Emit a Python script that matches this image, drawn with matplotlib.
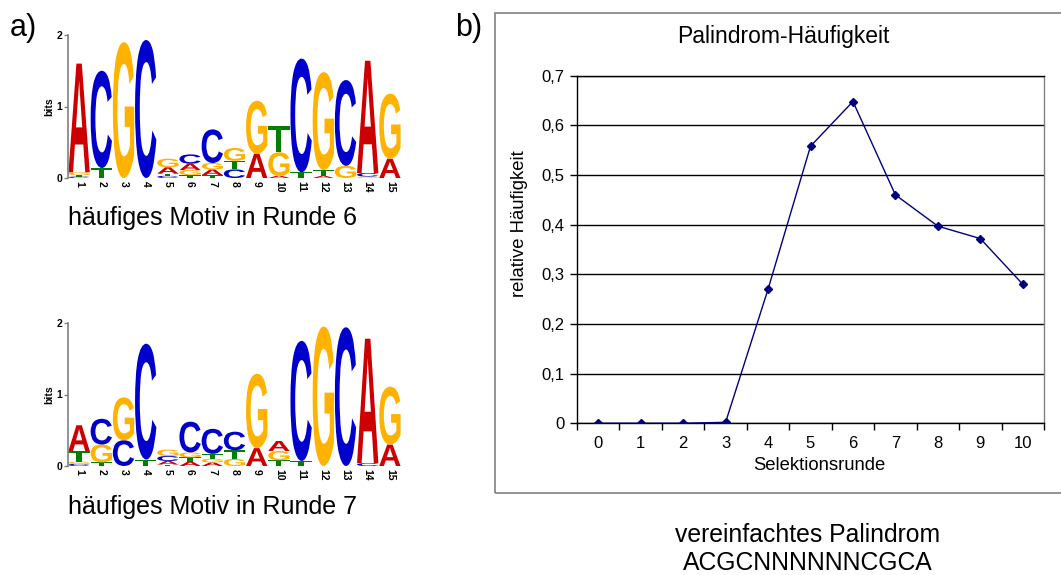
import matplotlib.pyplot as plt
import matplotlib.transforms as mtransforms
from matplotlib.textpath import TextPath
from matplotlib.patches import PathPatch, Rectangle
from matplotlib.font_manager import FontProperties
from matplotlib.ticker import FuncFormatter

plt.rcParams['font.family'] = ['Liberation Sans', 'DejaVu Sans']

# sequence logo, round 6 (bits per letter and position 1..15)
positions = list(range(1, 16))
r6_A = [1.52, 0.00, 0.00, 0.00, 0.09, 0.09, 0.08, 0.00, 0.34, 0.03, 0.00, 0.03, 0.00, 1.57, 0.27]
r6_C = [0.02, 1.36, 0.00, 1.93, 0.03, 0.13, 0.47, 0.12, 0.00, 0.00, 1.59, 0.00, 1.20, 0.05, 0.00]
r6_G = [0.04, 0.00, 1.90, 0.00, 0.12, 0.07, 0.09, 0.18, 0.74, 0.33, 0.00, 1.37, 0.17, 0.02, 0.91]
r6_T = [0.02, 0.14, 0.00, 0.00, 0.03, 0.04, 0.04, 0.12, 0.00, 0.37, 0.08, 0.08, 0.00, 0.00, 0.00]

# sequence logo, round 7
r7_A = [0.36, 0.00, 0.00, 0.00, 0.05, 0.06, 0.05, 0.00, 0.25, 0.14, 0.00, 0.00, 0.00, 1.74, 0.30]
r7_C = [0.03, 0.36, 0.36, 1.62, 0.07, 0.43, 0.35, 0.26, 0.00, 0.00, 1.68, 0.00, 1.94, 0.04, 0.00]
r7_G = [0.03, 0.25, 0.60, 0.00, 0.09, 0.07, 0.05, 0.10, 1.04, 0.13, 0.00, 1.95, 0.00, 0.00, 0.81]
r7_T = [0.15, 0.05, 0.00, 0.09, 0.02, 0.06, 0.07, 0.12, 0.00, 0.08, 0.07, 0.00, 0.00, 0.00, 0.00]

# palindrome frequency per selection round
rounds = list(range(0, 11))
freq = [0.0, 0.0, 0.0, 0.002, 0.27, 0.558, 0.648, 0.46, 0.397, 0.372, 0.28]

letter_colors = {'A': '#cc0000', 'C': '#0000cc', 'G': '#ffb300', 'T': '#008000'}
logo_font = FontProperties(family='Liberation Sans', weight='bold')

W, H = 1061, 575
fig = plt.figure(figsize=(W / 100, H / 100), dpi=100)


def px(x, y, w=0, h=0):
    # pixel box (top-left origin) -> figure fraction [left, bottom, width, height]
    return [x / W, 1 - (y + h) / H, w / W, h / H]


def draw_letter(ax, ch, x, y, w, h, color):
    tp = TextPath((0, 0), ch, size=1, prop=logo_font)
    bb = tp.get_extents()
    t = (mtransforms.Affine2D().translate(-bb.x0, -bb.y0)
         .scale(w / bb.width, h / bb.height).translate(x - w / 2, y))
    ax.add_patch(PathPatch(t.transform_path(tp), fc=color, ec='none'))


def logo(rect, A, C, G, T):
    ax = fig.add_axes(rect)
    for i, p in enumerate(positions):
        col = [('A', A[i]), ('C', C[i]), ('G', G[i]), ('T', T[i])]
        col = sorted([c for c in col if c[1] > 0], key=lambda c: c[1])
        y = 0
        for ch, h in col:
            draw_letter(ax, ch, p, y, 0.96, h, letter_colors[ch])
            y += h
    ax.set_xlim(0.5, 15.5)
    ax.set_ylim(0, 2)
    for s in ['top', 'right', 'bottom']:
        ax.spines[s].set_visible(False)
    ax.spines['left'].set_color('#808080')
    ax.spines['left'].set_linewidth(1.2)
    ax.set_yticks([0, 1, 2])
    ax.set_yticklabels(['0', '1', '2'], fontsize=7.5, fontweight='bold')
    ax.tick_params(axis='y', length=3, width=1, color='#808080', pad=1)
    ax.set_xticks(positions)
    ax.set_xticklabels([str(p) for p in positions], rotation=-90, fontsize=7.5, fontweight='bold')
    ax.tick_params(axis='x', length=0, pad=2)
    ax.set_ylabel('bits', fontsize=7.5, fontweight='bold', labelpad=2)
    return ax


logo(px(68, 35, 333, 143), r6_A, r6_C, r6_G, r6_T)
logo(px(68, 323, 333, 143), r7_A, r7_C, r7_G, r7_T)

fig.text(68 / W, 1 - 218 / H, 'häufiges Motiv in Runde 6', fontsize=18, va='center', ha='left')
fig.text(68 / W, 1 - 507 / H, 'häufiges Motiv in Runde 7', fontsize=18, va='center', ha='left')
fig.text(10 / W, 1 - 28 / H, 'a)', fontsize=22, va='center', ha='left')
fig.text(455 / W, 1 - 28 / H, 'b)', fontsize=22, va='center', ha='left')

# frame around chart b (right edge runs off the picture)
fig.patches.append(Rectangle((495 / W, 1 - 493 / H), 575 / W, 480 / H,
                             transform=fig.transFigure, fill=False,
                             ec='#808080', lw=1.2))

ax = fig.add_axes(px(577, 75.7, 467, 347.6))
ax.plot(rounds, freq, color='#000080', lw=1, marker='D', markersize=4.5, zorder=3)
ax.set_xlim(-0.5, 10.5)
ax.set_ylim(0, 0.7)
ax.set_yticks([0, 0.1, 0.2, 0.3, 0.4, 0.5, 0.6, 0.7])
ax.yaxis.set_major_formatter(FuncFormatter(lambda v, p: '0' if v == 0 else ('%.1f' % v).replace('.', ',')))
ax.grid(axis='y', color='black', lw=1)
ax.set_xticks(rounds)
ax.set_xticks([r - 0.5 for r in rounds] + [10.5], minor=True)
ax.tick_params(axis='x', which='major', length=0, labelsize=12, pad=9)
ax.tick_params(axis='x', which='minor', length=5, width=1, direction='out')
ax.tick_params(axis='y', length=5, width=1, labelsize=12, pad=4)
ax.spines['top'].set_color('black')
ax.spines['right'].set_color('#808080')
for s in ax.spines.values():
    s.set_linewidth(1)

fig.text(783 / W, 1 - 37 / H, 'Palindrom-Häufigkeit', fontsize=16.5, ha='center', va='center')
fig.text(520 / W, 1 - 224 / H, 'relative Häufigkeit', fontsize=13.3, ha='center', va='center', rotation=90)
fig.text(819 / W, 1 - 466 / H, 'Selektionsrunde', fontsize=13.3, ha='center', va='center')

fig.text(808 / W, 1 - 535 / H, 'vereinfachtes Palindrom', fontsize=17.8, ha='center', va='center')
fig.text(808 / W, 1 - 563 / H, 'ACGCNNNNNNCGCA', fontsize=17.8, ha='center', va='center')

plt.savefig('out.png', dpi=100)
